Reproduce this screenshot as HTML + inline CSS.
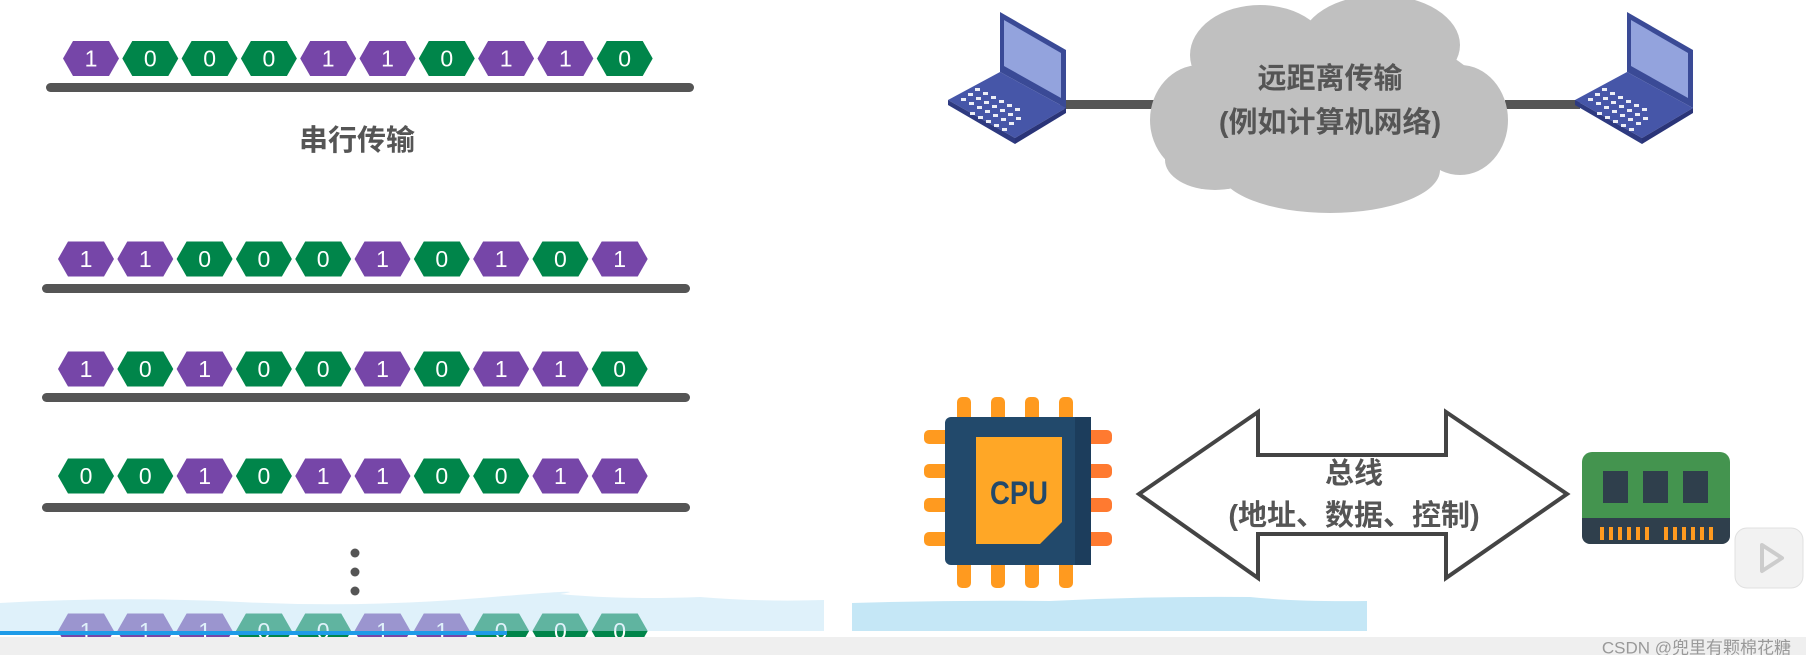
<!DOCTYPE html>
<html><head><meta charset="utf-8"><style>
html,body{margin:0;padding:0;background:#fff;}
svg{display:block;}
.d{font-family:"Liberation Sans",sans-serif;font-size:23px;fill:#fff;text-anchor:middle;dominant-baseline:central;}
.cn{font-family:"Liberation Sans","Noto Sans CJK SC",sans-serif;font-weight:bold;fill:#555;text-anchor:middle;}
</style></head><body>
<svg width="1806" height="655" viewBox="0 0 1806 655" xmlns="http://www.w3.org/2000/svg">
<defs>
<polygon id="h" points="-28,0 -18,-17.5 18,-17.5 28,0 18,17.5 -18,17.5"/>
<g id="P"><use href="#h" fill="#7646a8"/><text class="d">1</text></g>
<g id="G"><use href="#h" fill="#00854a"/><text class="d">0</text></g>
<g id="lap">
<polygon points="1000,12 1066,50 1066,108 1000,72" fill="#3a4a96"/>
<polygon points="1004,20 1061,53 1061,98 1004,66" fill="#93a3dd"/>
<polygon points="948,100 1000,72 1066,108 1015,138" fill="#4656a8"/>
<polygon points="948,100 1015,138 1015,144 948,105" fill="#2e3a80"/>
<polygon points="1015,138 1066,108 1066,113 1015,144" fill="#2a3478"/>
<g fill="#fff" opacity="0.9">
<rect x="975" y="88" width="5" height="3"/><rect x="983" y="92" width="5" height="3"/><rect x="991" y="96" width="5" height="3"/><rect x="999" y="100" width="5" height="3"/><rect x="1007" y="104" width="5" height="3"/><rect x="1015" y="108" width="5" height="3"/>
<rect x="968" y="93" width="5" height="3"/><rect x="976" y="97" width="5" height="3"/><rect x="984" y="101" width="5" height="3"/><rect x="992" y="105" width="5" height="3"/><rect x="1000" y="109" width="5" height="3"/><rect x="1008" y="113" width="5" height="3"/><rect x="1016" y="117" width="5" height="3"/>
<rect x="961" y="98" width="5" height="3"/><rect x="969" y="102" width="5" height="3"/><rect x="977" y="106" width="5" height="3"/><rect x="985" y="110" width="5" height="3"/><rect x="993" y="114" width="5" height="3"/><rect x="1001" y="118" width="5" height="3"/><rect x="1009" y="122" width="5" height="3"/>
<rect x="970" y="112" width="5" height="3"/><rect x="978" y="116" width="5" height="3"/><rect x="986" y="120" width="5" height="3"/><rect x="994" y="124" width="5" height="3"/><rect x="1002" y="128" width="5" height="3"/>
</g>
</g>
</defs>

<g>
<use href="#P" x="91" y="58.5"/><use href="#G" x="150.3" y="58.5"/><use href="#G" x="209.6" y="58.5"/><use href="#G" x="268.9" y="58.5"/><use href="#P" x="328.2" y="58.5"/><use href="#P" x="387.5" y="58.5"/><use href="#G" x="446.8" y="58.5"/><use href="#P" x="506.1" y="58.5"/><use href="#P" x="565.4" y="58.5"/><use href="#G" x="624.7" y="58.5"/>
<rect x="46" y="83" width="648" height="9" rx="4.5" fill="#555"/>
</g>
<text class="cn" x="357" y="150" font-size="29">串行传输</text>

<g>
<use href="#P" x="86" y="259"/><use href="#P" x="145.3" y="259"/><use href="#G" x="204.6" y="259"/><use href="#G" x="263.9" y="259"/><use href="#G" x="323.2" y="259"/><use href="#P" x="382.5" y="259"/><use href="#G" x="441.8" y="259"/><use href="#P" x="501.1" y="259"/><use href="#G" x="560.4" y="259"/><use href="#P" x="619.7" y="259"/>
<rect x="42" y="284" width="648" height="9" rx="4.5" fill="#555"/>
</g>
<g>
<use href="#P" x="86" y="369"/><use href="#G" x="145.3" y="369"/><use href="#P" x="204.6" y="369"/><use href="#G" x="263.9" y="369"/><use href="#G" x="323.2" y="369"/><use href="#P" x="382.5" y="369"/><use href="#G" x="441.8" y="369"/><use href="#P" x="501.1" y="369"/><use href="#P" x="560.4" y="369"/><use href="#G" x="619.7" y="369"/>
<rect x="42" y="393" width="648" height="9" rx="4.5" fill="#555"/>
</g>
<g>
<use href="#G" x="86" y="476"/><use href="#G" x="145.3" y="476"/><use href="#P" x="204.6" y="476"/><use href="#G" x="263.9" y="476"/><use href="#P" x="323.2" y="476"/><use href="#P" x="382.5" y="476"/><use href="#G" x="441.8" y="476"/><use href="#G" x="501.1" y="476"/><use href="#P" x="560.4" y="476"/><use href="#P" x="619.7" y="476"/>
<rect x="42" y="503" width="648" height="9" rx="4.5" fill="#555"/>
</g>
<circle cx="355" cy="553" r="4.5" fill="#555"/><circle cx="355" cy="572" r="4.5" fill="#555"/><circle cx="355" cy="591" r="4.5" fill="#555"/>
<g>
<use href="#P" x="86" y="631"/><use href="#P" x="145.3" y="631"/><use href="#P" x="204.6" y="631"/><use href="#G" x="263.9" y="631"/><use href="#G" x="323.2" y="631"/><use href="#P" x="382.5" y="631"/><use href="#P" x="441.8" y="631"/><use href="#G" x="501.1" y="631"/><use href="#G" x="560.4" y="631"/><use href="#G" x="619.7" y="631"/>
</g>

<rect x="1060" y="100" width="95" height="9" fill="#555"/>
<rect x="1505" y="100" width="75" height="9" fill="#555"/>
<use href="#lap"/>
<use href="#lap" x="627"/>
<g fill="#c0c0c0">
<ellipse cx="1330" cy="110" rx="160" ry="82"/>
<ellipse cx="1260" cy="55" rx="70" ry="50"/>
<ellipse cx="1380" cy="45" rx="80" ry="50"/>
<ellipse cx="1200" cy="120" rx="50" ry="55"/>
<ellipse cx="1460" cy="120" rx="48" ry="55"/>
<ellipse cx="1330" cy="170" rx="110" ry="43"/>
<ellipse cx="1215" cy="160" rx="50" ry="30"/>
</g>
<text class="cn" x="1330" y="88" font-size="29">远距离传输</text>
<text class="cn" x="1330" y="132" font-size="29">(例如计算机网络)</text>

<g fill="#ff9a1f">
<rect x="957" y="397" width="14" height="30" rx="5"/><rect x="991" y="397" width="14" height="30" rx="5"/><rect x="1025" y="397" width="14" height="30" rx="5"/><rect x="1059" y="397" width="14" height="30" rx="5"/>
<rect x="957" y="555" width="14" height="33" rx="5"/><rect x="991" y="555" width="14" height="33" rx="5"/><rect x="1025" y="555" width="14" height="33" rx="5"/><rect x="1059" y="555" width="14" height="33" rx="5"/>
<rect x="924" y="430" width="30" height="14" rx="5"/><rect x="924" y="464" width="30" height="14" rx="5"/><rect x="924" y="498" width="30" height="14" rx="5"/><rect x="924" y="532" width="30" height="14" rx="5"/>
</g>
<g fill="#ff7a30">
<rect x="1082" y="430" width="30" height="14" rx="5"/><rect x="1082" y="464" width="30" height="14" rx="5"/><rect x="1082" y="498" width="30" height="14" rx="5"/><rect x="1082" y="532" width="30" height="14" rx="5"/>
</g>
<rect x="945" y="417" width="146" height="148" rx="6" fill="#22496b"/>
<rect x="1075" y="417" width="16" height="148" fill="#1c3d5c"/>
<polygon points="976,437 1062,437 1062,522 1040,544 976,544" fill="#ffa726"/>
<text x="1019" y="504" font-family="Liberation Sans,sans-serif" font-weight="bold" font-size="32" fill="#22496b" text-anchor="middle" textLength="58" lengthAdjust="spacingAndGlyphs">CPU</text>

<polygon points="1139,494 1258,412 1258,455 1446,455 1446,412 1567,494 1446,578 1446,534 1258,534 1258,578" fill="#fff" stroke="#444" stroke-width="4" stroke-linejoin="miter"/>
<text class="cn" x="1354" y="483" font-size="29">总线</text>
<text class="cn" x="1354" y="525" font-size="29">(地址、数据、控制)</text>

<rect x="1582" y="452" width="148" height="92" rx="10" fill="#44944f"/>
<rect x="1582" y="518" width="148" height="26" rx="8" fill="#2f3f4c"/>
<rect x="1582" y="518" width="148" height="10" fill="#2f3f4c"/>
<rect x="1603" y="471" width="25" height="32" fill="#2f3f4c"/><rect x="1643" y="471" width="25" height="32" fill="#2f3f4c"/><rect x="1683" y="471" width="25" height="32" fill="#2f3f4c"/>
<g fill="#ff9a1f">
<rect x="1600" y="527" width="4" height="13"/><rect x="1609" y="527" width="4" height="13"/><rect x="1618" y="527" width="4" height="13"/><rect x="1627" y="527" width="4" height="13"/><rect x="1636" y="527" width="4" height="13"/><rect x="1645" y="527" width="4" height="13"/>
<rect x="1664" y="527" width="4" height="13"/><rect x="1673" y="527" width="4" height="13"/><rect x="1682" y="527" width="4" height="13"/><rect x="1691" y="527" width="4" height="13"/><rect x="1700" y="527" width="4" height="13"/><rect x="1709" y="527" width="4" height="13"/>
</g>

<rect x="1735" y="528" width="68" height="60" rx="12" fill="#f2f2f2" stroke="#e0e0e0"/>
<polygon points="1762,545 1782,558 1762,571" fill="none" stroke="#ccc" stroke-width="4" stroke-linejoin="round"/>

<path d="M0,603 Q120,596 240,602 T480,598 T560,594 Q620,600 700,597 Q760,602 824,600 L824,631 L0,631 Z" fill="#bfe4f5" opacity="0.5"/>
<path d="M852,603 Q950,600 1050,601 Q1150,596 1250,597 Q1300,602 1367,601 L1367,631 L852,631 Z" fill="#bfe4f5" opacity="0.9"/>
<rect x="0" y="631" width="507" height="4" fill="#1e9be8"/>
<rect x="0" y="637" width="1806" height="18" fill="#efefef"/>
<text x="1791" y="648" font-family="Liberation Sans,'Noto Sans CJK SC',sans-serif" font-size="17" fill="#999" text-anchor="end" dominant-baseline="central">CSDN @兜里有颗棉花糖</text>
</svg>
</body></html>
